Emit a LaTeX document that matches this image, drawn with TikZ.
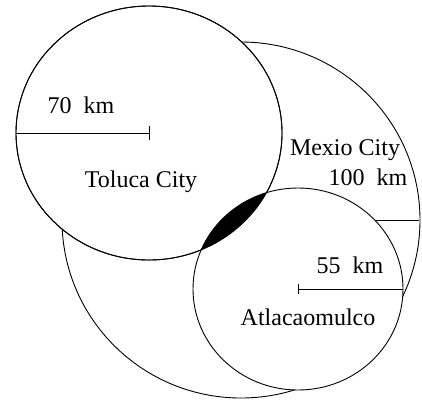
\documentclass[tikz,border=0pt]{standalone}
\usepackage{fontspec}
\setmainfont{Liberation Serif}
\begin{document}
\begin{tikzpicture}[x=1pt,y=-1pt,
  ring/.style={draw=black,fill=white,line width=0.9pt},
  rad/.style={draw=black,line width=0.9pt},
  lbl/.style={font=\fontsize{24}{28}\selectfont,inner sep=0pt,anchor=base}]
\useasboundingbox (0,0) rectangle (422,402);
% centres
\coordinate (M) at (241,220);
\coordinate (T) at (149,133);
\coordinate (A) at (298,289);
\coordinate (Mr) at (419,220);
\coordinate (Tl) at (16,133);
\coordinate (Ar) at (403,289);
% Mexico City circle and its radius
\path[ring] (M) ellipse (179 and 178);
\draw[rad] (M) -- (Mr);
% Toluca and Atlacomulco circles
\path[ring] (T) ellipse (133 and 127);
\path[ring] (A) ellipse (105 and 101);
% black lens (overlap)
\begin{scope}
  \clip (T) ellipse (133 and 127);
  \fill[black] (A) ellipse (105 and 101);
\end{scope}
\draw[line width=0.9pt] (T) ellipse (133 and 127);
% radius bars
\draw[rad] (Tl) -- (T);
\draw[rad] ([yshift=-7pt]T) -- ([yshift=7pt]T);
\draw[rad] (A) -- (Ar);
\draw[rad] ([yshift=-5pt]A) -- ([yshift=5pt]A);
% labels
\node[lbl] (t70) at (81,113) {70~~km};
\node[lbl] (tT) at (141,187) {Toluca City};
\node[lbl] (tM) at (345,155) {Mexio City};
\node[lbl] (t100) at (368,185) {100~~km};
\node[lbl] (t55) at (350,273) {55~~km};
\node[lbl] (tA) at (308,325) {Atlacaomulco};
\end{tikzpicture}
\end{document}
